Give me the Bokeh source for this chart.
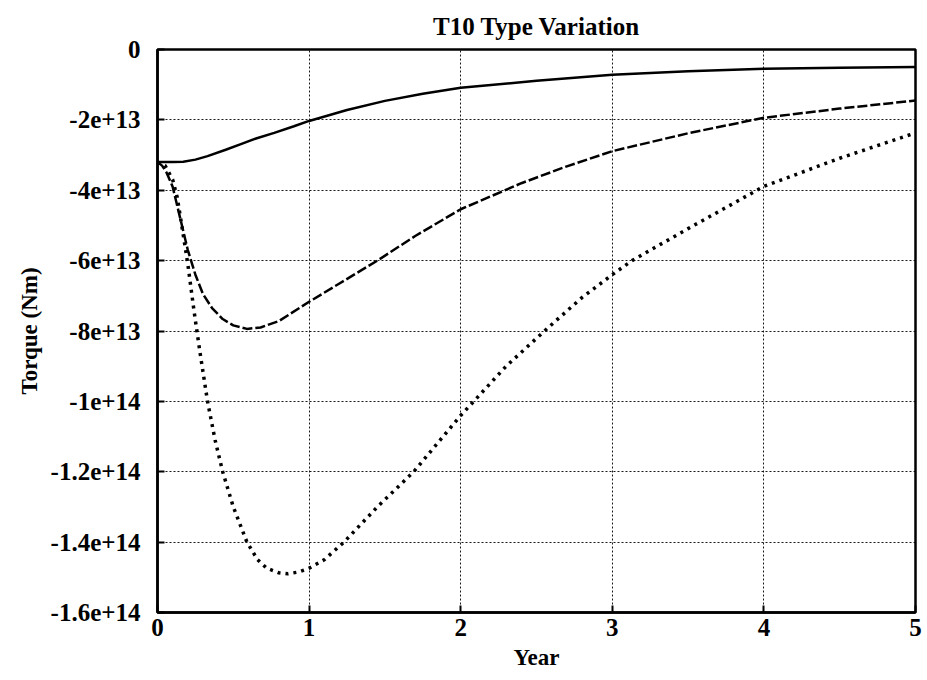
from bokeh.plotting import figure
from bokeh.models import FixedTicker, Range1d
from bokeh.embed import file_html
from bokeh.resources import INLINE

# ---- data (torque in Nm, time in years) ----
solid_x = [0, 0.1, 0.17, 0.25, 0.33, 0.45, 0.55, 0.65, 0.77, 0.9, 1.0, 1.25, 1.5, 1.75,
           2.0, 2.5, 3.0, 3.5, 4.0, 4.5, 5.0]
solid_y = [-3.2e13, -3.2e13, -3.19e13, -3.13e13, -3.03e13, -2.85e13, -2.69e13, -2.53e13,
           -2.37e13, -2.18e13, -2.03e13, -1.72e13, -1.46e13, -1.26e13, -1.09e13, -0.89e13,
           -0.72e13, -0.62e13, -0.55e13, -0.52e13, -0.50e13]

dash_x = [0, 0.03, 0.06, 0.1, 0.15, 0.2, 0.25, 0.3, 0.36, 0.43, 0.5, 0.59, 0.68, 0.8,
          1.0, 1.2, 1.45, 1.7, 2.0, 2.4, 2.7, 3.0, 3.5, 4.0, 4.5, 5.0]
dash_y = [-3.2e13, -3.3e13, -3.5e13, -3.9e13, -4.8e13, -5.7e13, -6.4e13, -6.95e13,
          -7.35e13, -7.66e13, -7.84e13, -7.94e13, -7.9e13, -7.72e13, -7.17e13, -6.65e13,
          -6.0e13, -5.3e13, -4.54e13, -3.8e13, -3.32e13, -2.89e13, -2.38e13, -1.94e13,
          -1.68e13, -1.45e13]

dot_x = [0, 0.05, 0.1, 0.13, 0.16, 0.2, 0.24, 0.28, 0.33, 0.38, 0.43, 0.5, 0.59, 0.66,
         0.72, 0.8, 0.86, 0.93, 1.0, 1.1, 1.23, 1.45, 1.69, 2.0, 2.3, 2.56, 2.8, 3.0,
         3.13, 3.5, 4.0, 4.5, 5.0]
dot_y = [-3.2e13, -3.3e13, -3.7e13, -4.2e13, -5.0e13, -6.1e13, -7.4e13, -8.6e13,
         -10.0e13, -11.1e13, -12.0e13, -13.0e13, -14.0e13, -14.5e13, -14.74e13,
         -14.87e13, -14.9e13, -14.85e13, -14.74e13, -14.5e13, -14.0e13, -13.0e13,
         -12.0e13, -10.4e13, -9.0e13, -7.97e13, -7.05e13, -6.4e13, -6.0e13, -5.09e13,
         -3.89e13, -3.09e13, -2.37e13]

x_ticks = [0, 1, 2, 3, 4, 5]
y_ticks = [0, -2e13, -4e13, -6e13, -8e13, -1e14, -1.2e14, -1.4e14, -1.6e14]
y_tick_labels = ["0", "-2e+13", "-4e+13", "-6e+13", "-8e+13", "-1e+14",
                 "-1.2e+14", "-1.4e+14", "-1.6e+14"]

FONT = "Liberation Serif"

p = figure(width=925, height=678, output_backend="svg", toolbar_location=None,
           x_range=Range1d(0, 5), y_range=Range1d(-1.6e14, 0),
           min_border_left=157, min_border_right=10, min_border_top=49,
           min_border_bottom=66, title="T10 Type Variation")

p.title.align = "center"
p.title.text_font = FONT
p.title.text_font_size = "25px"
p.title.text_font_style = "bold"
p.title.text_color = "black"
p.title.standoff = 20

p.outline_line_color = "black"
p.outline_line_width = 2.5
p.background_fill_color = "white"
p.border_fill_color = "white"

for ax in (p.xaxis[0], p.yaxis[0]):
    ax.major_tick_in = 7
    ax.major_tick_out = 0
    ax.minor_tick_line_color = None
    ax.major_tick_line_width = 2
    ax.major_tick_line_color = "black"
    ax.axis_line_width = 2.5
    ax.axis_line_color = "black"
    ax.major_label_text_font = FONT
    ax.major_label_text_font_size = "25px"
    ax.major_label_text_font_style = "bold"
    ax.major_label_text_color = "black"
    ax.axis_label_text_font = FONT
    ax.axis_label_text_font_size = "23px"
    ax.axis_label_text_font_style = "bold"
    ax.axis_label_text_color = "black"

p.xaxis[0].ticker = FixedTicker(ticks=x_ticks)
p.yaxis[0].ticker = FixedTicker(ticks=y_ticks)
p.yaxis[0].major_label_overrides = {v: s for v, s in zip(y_ticks, y_tick_labels)}
p.xaxis[0].axis_label = "Year"
p.yaxis[0].axis_label = "Torque (Nm)"
p.xaxis[0].major_label_standoff = 6
p.xaxis[0].axis_label_standoff = 6
p.yaxis[0].major_label_standoff = 17
p.yaxis[0].axis_label_standoff = 6

p.grid.grid_line_color = "black"
p.grid.grid_line_dash = "2 2"
p.grid.grid_line_width = 1
p.grid.grid_line_alpha = 0.9
p.xgrid.ticker = FixedTicker(ticks=x_ticks)
p.ygrid.ticker = FixedTicker(ticks=y_ticks)

p.line(solid_x, solid_y, line_color="black", line_width=2.5)
p.line(dash_x, dash_y, line_color="black", line_width=2.5, line_dash="10 3")
p.line(dot_x, dot_y, line_color="black", line_width=3.5, line_dash="3 5")

open("out.html", "w").write(file_html(p, INLINE))
